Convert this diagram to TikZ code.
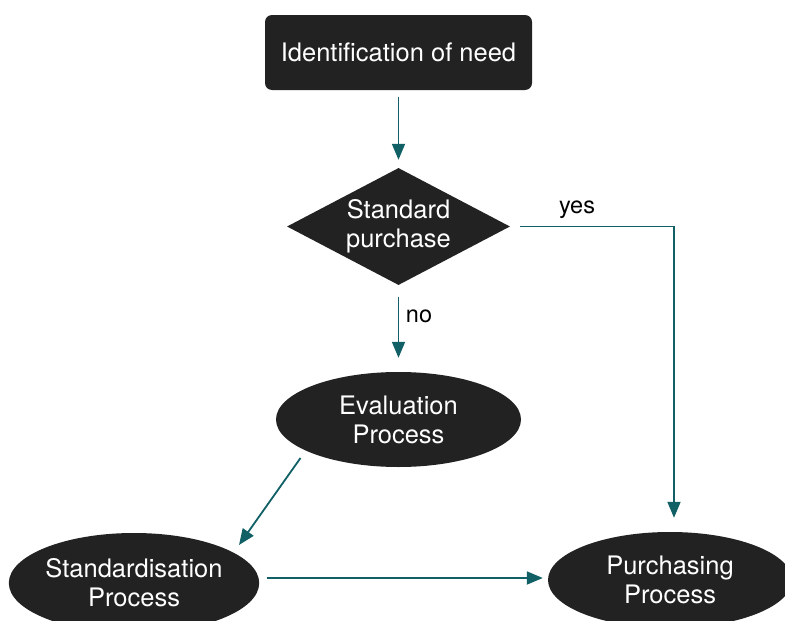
\documentclass[tikz,border=0pt]{standalone}
\usepackage{fontspec}
\setmainfont{TeX Gyre Heros}
\usetikzlibrary{shapes.geometric,arrows.meta}

\definecolor{boxfill}{HTML}{222222}
\definecolor{flow}{RGB}{16,96,102}

\tikzset{
  base/.style={fill=boxfill, text=white, inner sep=0pt, align=center,
               font=\fontsize{25.5}{29}\selectfont},
  startbox/.style={base, rectangle, rounded corners=7pt,
                   minimum width=267pt, minimum height=75pt},
  decision/.style={base, diamond, aspect=1.9,
                   minimum width=223pt, minimum height=117pt},
  process/.style={base, ellipse},
  flowline/.style={draw=flow, line width=1.8pt,
                   -{Triangle[length=16pt,width=13pt]}},
  flowlabel/.style={font=\fontsize{23.5}{26}\selectfont, text=black, inner sep=0pt}
}

\begin{document}
\begin{tikzpicture}[x=1pt,y=-1pt]
  \useasboundingbox (0,0) rectangle (785,621);
  \clip (0,0) rectangle (785,621);

  % nodes
  \node[startbox] (need) at (398.5,52.5) {Identification of need};
  \node[decision] (std) at (398.5,226.5) {Standard\\purchase};
  \node[process, minimum width=245pt, minimum height=95pt] (eval)
        at (398.5,419.5) {Evaluation\\Process};
  \node[process, minimum width=248pt, minimum height=100pt] (stdz)
        at (134,583) {Standardisation\\Process};
  \node[process, minimum width=244pt, minimum height=96pt] (purch)
        at (670,580) {Purchasing\\Process};

  % labels
  \node[flowlabel] (yes) at (577,210) {yes};
  \node[flowlabel] (no) at (419,316) {no};

  % connectors
  \draw[flowline, shorten <=7pt, shorten >=8pt] (need.south) -- (std.north);
  \draw[flowline, shorten <=12pt, shorten >=14pt] (std.south) -- (eval.north);
  \draw[flowline, shorten >=14pt] ([xshift=10pt]std.east)
        -| ([xshift=4pt]purch.north);
  \draw[flowline] ([xshift=-98pt,yshift=-38.5pt]eval.center)
        -- ([xshift=105pt,yshift=38pt]stdz.center);
  \draw[flowline] ([xshift=8pt,yshift=5pt]stdz.east)
        -- ([xshift=-5pt,yshift=2pt]purch.west);
\end{tikzpicture}
\end{document}
